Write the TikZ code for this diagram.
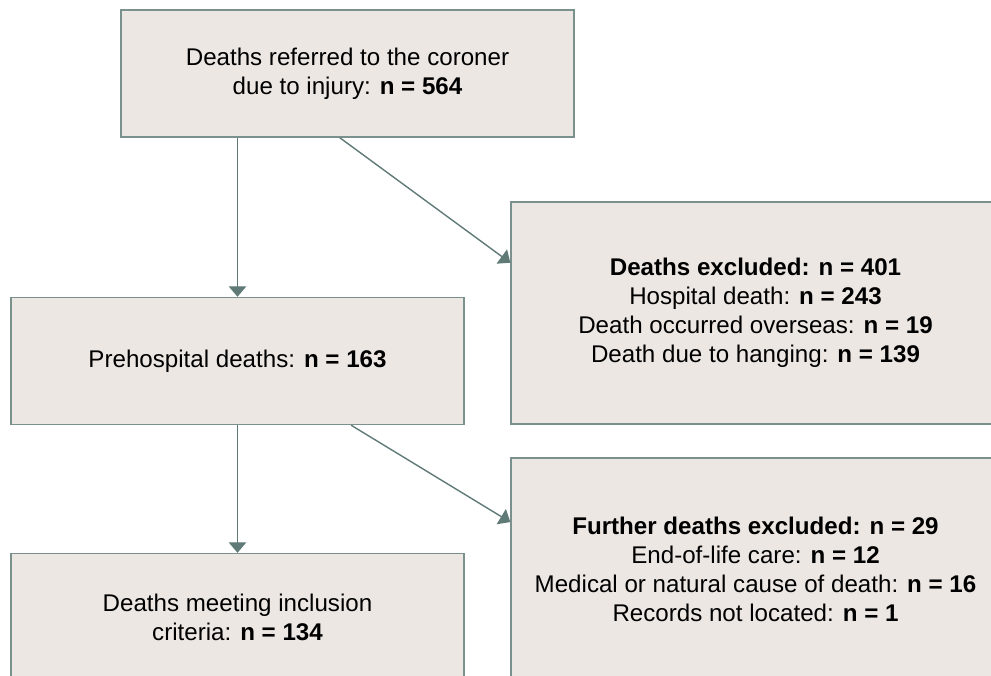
\documentclass[tikz,border=0pt]{standalone}
\usepackage{fontspec}
\setmainfont{Liberation Sans}
\usepackage{xcolor}
\usetikzlibrary{positioning,calc,arrows.meta}
\definecolor{boxfill}{HTML}{ECE7E3}
\definecolor{boxline}{HTML}{7B918D}
\definecolor{arrline}{HTML}{607B77}
\tikzset{
  box/.style={draw=boxline, fill=boxfill, line width=1.2pt, align=center,
    minimum width=13.59cm, minimum height=3.81cm, inner sep=0pt,
    font=\fontsize{20.6}{24.75}\selectfont},
  exbox/.style={box, minimum width=14.67cm, minimum height=6.66cm},
  arr/.style={draw=arrline, line width=1.2pt, -{Triangle[length=9pt,width=15pt]}}
}

\begin{document}
\begin{tikzpicture}[x=0.03cm,y=-0.03cm]
    \clip (0,0) rectangle (991,675);
    \node[box] (start) at (347.5,73.5) {Deaths referred to the coroner\\due to injury: \textbf{n = 564}};
    \node[box] (prehosp) at (237.5,361) {Prehospital deaths: \textbf{n = 163}};
    \node[box] (included) at (237.5,617) {Deaths meeting inclusion\\criteria: \textbf{n = 134}};
    \node[exbox] (excluded) at (755.5,313) {\textbf{Deaths excluded: n = 401}\\Hospital death: \textbf{n = 243}\\Death occurred overseas: \textbf{n = 19}\\Death due to hanging: \textbf{n = 139}};
    \node[exbox] (further) at (755.5,569) {\textbf{Further deaths excluded: n = 29}\\End-of-life care: \textbf{n = 12}\\Medical or natural cause of death: \textbf{n = 16}\\Records not located: \textbf{n = 1}};

    % down the main path
    \draw[arr] (start.south -| prehosp.north) -- (prehosp.north);
    \draw[arr] (prehosp.south) -- (included.north);
    % exclusions
    \draw[arr] ($(start.south west)!0.483!(start.south east)$) -- ($(excluded.north west)!0.275!(excluded.south west)$);
    \draw[arr] ($(prehosp.south west)!0.75!(prehosp.south east)$) -- ($(further.north west)!0.29!(further.south west)$);
\end{tikzpicture}
\end{document}
